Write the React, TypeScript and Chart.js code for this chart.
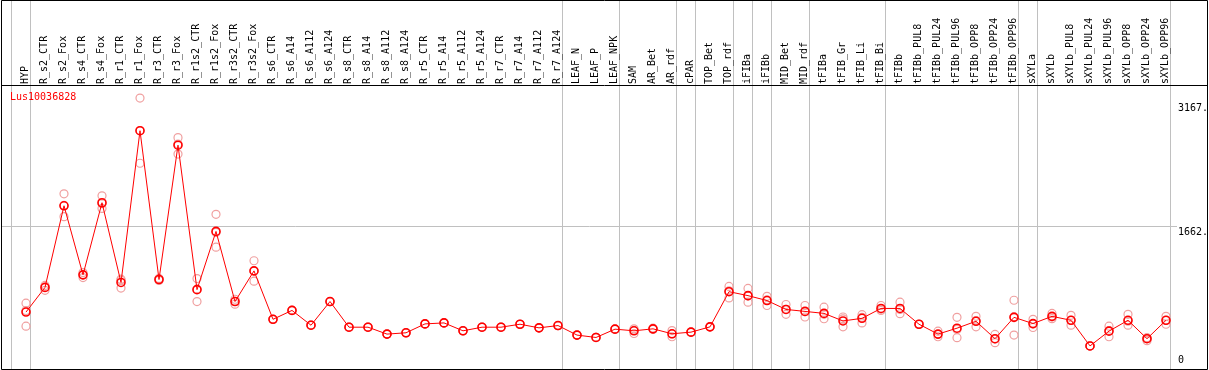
import React, { useEffect, useRef } from 'react';
import { Chart, registerables } from 'chart.js';

Chart.register(...registerables);

const categories = [
  'HYP', 'R_s2_CTR', 'R_s2_Fox', 'R_s4_CTR', 'R_s4_Fox', 'R_r1_CTR', 'R_r1_Fox', 'R_r3_CTR', 'R_r3_Fox',
  'R_r1s2_CTR', 'R_r1s2_Fox', 'R_r3s2_CTR', 'R_r3s2_Fox', 'R_s6_CTR', 'R_s6_A14', 'R_s6_A112', 'R_s6_A124',
  'R_s8_CTR', 'R_s8_A14', 'R_s8_A112', 'R_s8_A124', 'R_r5_CTR', 'R_r5_A14', 'R_r5_A112', 'R_r5_A124',
  'R_r7_CTR', 'R_r7_A14', 'R_r7_A112', 'R_r7_A124', 'LEAF_N', 'LEAF_P', 'LEAF_NPK', 'SAM', 'AR_Bet', 'AR_rdf',
  'cPAR', 'TOP_Bet', 'TOP_rdf', 'iFIBa', 'iFIBb', 'MID_Bet', 'MID_rdf', 'tFIBa', 'tFIB_Gr', 'tFIB_Li', 'tFIB_Bi',
  'tFIBb', 'tFIBb_PUL8', 'tFIBb_PUL24', 'tFIBb_PUL96', 'tFIBb_OPP8', 'tFIBb_OPP24', 'tFIBb_OPP96',
  'sXYLa', 'sXYLb', 'sXYLb_PUL8', 'sXYLb_PUL24', 'sXYLb_PUL96', 'sXYLb_OPP8', 'sXYLb_OPP24', 'sXYLb_OPP96',
];

const meanValues = [
  621, 921, 1914, 1074, 1951, 981, 2827, 1017, 2651, 894, 1602, 749, 1122, 533, 641, 461, 749,
  437, 437, 353, 369, 477, 489, 393, 437, 437, 473, 429, 457, 341, 312, 413, 393, 417, 357,
  377, 441, 869, 821, 761, 653, 629, 605, 513, 545, 665, 665, 473, 353, 425, 509, 297, 557,
  481, 569, 521, 209, 389, 521, 297, 521,
];

const rep1 = [
  729, 945, 2059, 1101, 2035, 1021, 3224, 1030, 2743, 1029, 1810, 777, 1245, 533, 641, 461, 749,
  437, 437, 353, 369, 477, 489, 393, 437, 437, 473, 429, 457, 341, 312, 413, 417, 425, 396,
  377, 441, 933, 909, 813, 713, 701, 681, 561, 589, 701, 741, 473, 389, 557, 569, 349, 765,
  533, 605, 581, 209, 449, 593, 309, 569,
];

const rep2 = [
  640, 921, 1918, 1074, 1940, 1010, 2827, 1017, 2665, 900, 1590, 750, 1120, 533, 641, 461, 749,
  437, 437, 353, 369, 477, 489, 393, 437, 437, 473, 429, 457, 341, 312, 413, 400, 417, 355,
  377, 441, 880, 815, 770, 653, 625, 595, 537, 557, 655, 653, 473, 349, 409, 517, 293, 565,
  477, 561, 521, 209, 397, 509, 297, 521,
];

const rep3 = [
  449, 885, 1782, 1041, 1882, 913, 2431, 1005, 2543, 749, 1410, 717, 997, 533, 641, 461, 749,
  437, 437, 353, 369, 477, 489, 393, 437, 437, 473, 429, 457, 341, 312, 413, 360, 410, 321,
  377, 441, 793, 741, 701, 593, 561, 540, 441, 489, 640, 601, 473, 321, 309, 441, 249, 341,
  433, 541, 461, 209, 321, 461, 273, 473,
];

// index of the last category in each group (-1 = before the first)
const groupEnds = [-1, 0, 28, 31, 34, 35, 37, 38, 39, 41, 45, 52, 53, 60];
const rightLabelValues = [3167, 1662, 0];
const rightLabelTexts = ['3167.', '1662.', '0'];
const guideValue = 1662;
const geneName = 'Lus10036828';

const MONO = '"DejaVu Sans Mono", "Liberation Mono", monospace';

const chromePlugin = {
  id: 'chrome',
  beforeDraw(chart: any) {
    const { ctx, width, height, chartArea } = chart;
    const x = chart.scales.x;
    const y = chart.scales.y;
    ctx.save();
    ctx.fillStyle = '#ffffff';
    ctx.fillRect(0, 0, width, height);
    ctx.strokeStyle = '#c0c0c0';
    ctx.lineWidth = 1;
    // vertical group separators
    groupEnds.forEach((i) => {
      const px = Math.floor(x.getPixelForValue(i) + 4.5) + 0.5;
      ctx.beginPath();
      ctx.moveTo(px, 0);
      ctx.lineTo(px, height - 1);
      ctx.stroke();
    });
    // horizontal guide
    const gy = Math.floor(y.getPixelForValue(guideValue)) + 0.5;
    ctx.beginPath();
    ctx.moveTo(2, gy);
    ctx.lineTo(chartArea.right + 11, gy);
    ctx.stroke();
    ctx.restore();
  },
  afterDraw(chart: any) {
    const { ctx, width, height, chartArea } = chart;
    const y = chart.scales.y;
    ctx.save();
    ctx.strokeStyle = '#000000';
    ctx.lineWidth = 1;
    ctx.beginPath();
    ctx.moveTo(1.5, 0.5);
    ctx.lineTo(width - 1.5, 0.5);
    ctx.lineTo(width - 1.5, height - 0.5);
    ctx.lineTo(1.5, height - 0.5);
    ctx.closePath();
    ctx.stroke();
    ctx.beginPath();
    ctx.moveTo(1.5, chartArea.top - 0.5);
    ctx.lineTo(width - 1.5, chartArea.top - 0.5);
    ctx.stroke();

    ctx.font = '10px ' + MONO;
    ctx.textBaseline = 'top';
    ctx.textAlign = 'left';
    ctx.fillStyle = '#000000';
    rightLabelValues.forEach((v, i) => {
      let ty = y.getPixelForValue(v) + 1;
      ty = Math.min(ty, chartArea.bottom - 9);
      ctx.fillText(rightLabelTexts[i], chartArea.right + 12, ty);
    });
    ctx.fillStyle = '#ff0000';
    ctx.fillText(geneName, 10, chartArea.top + 6);
    ctx.restore();
  },
};

export default function App() {
  const canvasRef = useRef<HTMLCanvasElement | null>(null);

  useEffect(() => {
    document.body.style.margin = '0';
    const canvas = canvasRef.current;
    if (!canvas) return;
    const repStyle = {
      type: 'line' as const,
      showLine: false,
      borderColor: '#f0a0a0',
      backgroundColor: 'rgba(0,0,0,0)',
      pointBorderColor: '#f0a0a0',
      pointBackgroundColor: 'rgba(0,0,0,0)',
      pointRadius: 4,
      pointBorderWidth: 1.2,
      pointHoverRadius: 4,
    };
    const chart = new Chart(canvas, {
      type: 'line',
      data: {
        labels: categories,
        datasets: [
          {
            label: 'mean',
            data: meanValues,
            borderColor: '#ff0000',
            borderWidth: 1,
            backgroundColor: 'rgba(0,0,0,0)',
            pointBorderColor: '#ff0000',
            pointBackgroundColor: 'rgba(0,0,0,0)',
            pointRadius: 4,
            pointBorderWidth: 1.6,
            pointHoverRadius: 4,
            tension: 0,
          },
          { label: 'rep1', data: rep1, ...repStyle },
          { label: 'rep2', data: rep2, ...repStyle },
          { label: 'rep3', data: rep3, ...repStyle },
        ],
      },
      options: {
        animation: false,
        responsive: false,
        devicePixelRatio: 1,
        events: [],
        layout: { padding: { left: 26, right: 43, top: 0, bottom: 2 } },
        plugins: { legend: { display: false }, tooltip: { enabled: false } },
        scales: {
          x: {
            type: 'category',
            position: 'top',
            offset: false,
            grid: { display: false, drawTicks: false },
            border: { display: false },
            ticks: {
              autoSkip: false,
              maxRotation: 90,
              minRotation: 90,
              padding: 2,
              labelOffset: 11,
              color: '#000000',
              font: { family: MONO, size: 10 },
            },
            afterFit: (scale: any) => {
              scale.height = 86;
            },
          },
          y: {
            display: false,
            min: -15.6,
            max: 3371,
          },
        },
      },
      plugins: [chromePlugin],
    });
    return () => chart.destroy();
  }, []);

  return (
    <div style={{ position: 'absolute', left: 0, top: 0, width: 1209, height: 370 }}>
      <canvas ref={canvasRef} width={1209} height={370} style={{ display: 'block' }} />
    </div>
  );
}
